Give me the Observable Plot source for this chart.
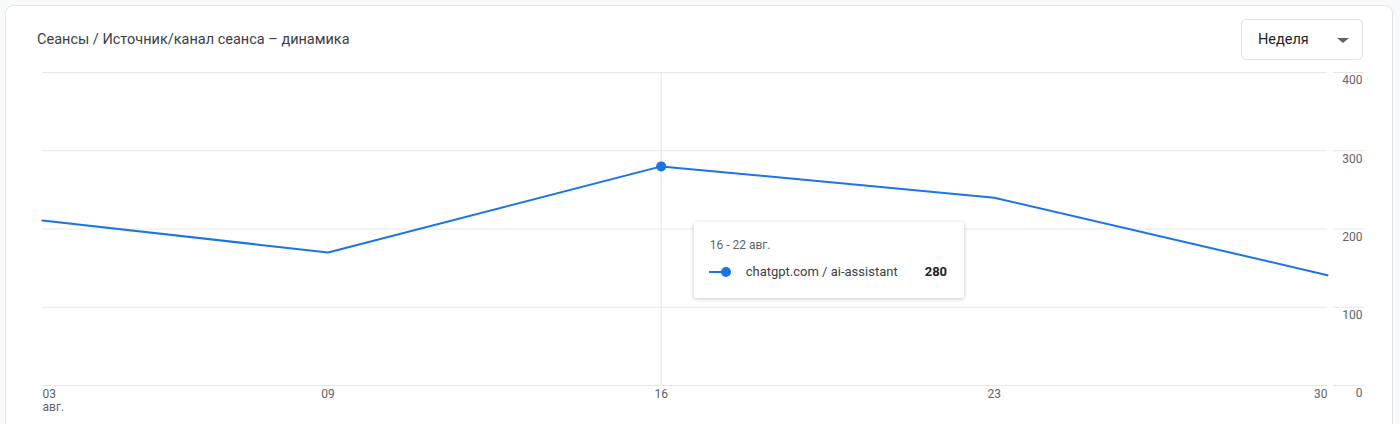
<!DOCTYPE html>
<html><head><meta charset="utf-8">
<script src="https://cdn.jsdelivr.net/npm/d3@7"></script>
<script src="https://cdn.jsdelivr.net/npm/@observablehq/plot@0.6"></script>
<style>
html,body{margin:0;padding:0;background:#f8f9fa;width:1400px;height:424px;overflow:hidden;font-family:Roboto,"Noto Sans",sans-serif;}
#card{position:absolute;left:5px;top:5px;width:1388px;height:450px;background:#fff;border:1px solid #e3e3e3;border-radius:8px;box-sizing:border-box;}
#title{position:absolute;left:37px;top:31px;font-size:14.5px;color:#3c4043;white-space:nowrap;}
#dd{position:absolute;left:1241px;top:19px;width:122px;height:41px;border:1px solid #e3e3e3;border-radius:5px;box-sizing:border-box;}
#dd span{position:absolute;left:16px;top:11px;font-size:14.5px;color:#202124;}
#dd i{position:absolute;left:95px;top:18px;width:0;height:0;border-left:6px solid transparent;border-right:6px solid transparent;border-top:5px solid #5f6368;}
#chart{position:absolute;left:0;top:0;}
#tip{position:absolute;top:222px;width:270px;height:76px;background:#fff;box-shadow:0 1px 4px rgba(0,0,0,0.22);border-radius:2px;}
#tip .h{position:absolute;left:16px;top:16px;font-size:12px;color:#5f6368;}
#tip .row{position:absolute;left:15px;top:42px;height:16px;width:240px;}
#tip .ln{position:absolute;left:0;top:7px;width:14px;height:2px;background:#1a73e8;}
#tip .dt{position:absolute;left:12px;top:3px;width:10px;height:10px;border-radius:50%;background:#1a73e8;}
#tip .nm{position:absolute;left:37px;top:0;font-size:13px;color:#3c4043;white-space:nowrap;}
#tip .v{position:absolute;left:216px;top:0;font-size:13px;font-weight:bold;color:#202124;}
</style></head>
<body>
<div id="card"></div>
<div id="title">Сеансы / Источник/канал сеанса – динамика</div>
<div id="dd"><span>Неделя</span><i></i></div>
<div id="chart"></div>
<div id="tip"></div>
<script>
const dates = ["2026-08-03","2026-08-09","2026-08-16","2026-08-23","2026-08-30"];
const values = [211, 170, 280, 240, 141];
const seriesName = "chatgpt.com / ai-assistant";
const yTicks = [0, 100, 200, 300, 400];
const monthLabel = "авг.";
const hoverIndex = 2;
const hoverRange = "16 - 22 авг.";
const periodLabel = "Неделя";

const data = dates.map((d, i) => ({date: new Date(d + "T00:00:00Z"), value: values[i]}));
const tickDates = data.map(d => d.date);
const fmt = d3.utcFormat("%d");
const hover = data[hoverIndex];
const textStyle = {fill: "#5f6368", fontSize: 12};

const chart = Plot.plot({
  width: 1400,
  height: 424,
  marginTop: 72,
  marginBottom: 39,
  marginLeft: 42,
  marginRight: 73,
  style: {fontFamily: "Roboto, 'Noto Sans', sans-serif", background: "transparent", overflow: "visible"},
  x: {type: "utc", domain: [tickDates[0], tickDates[tickDates.length - 1]], axis: null},
  y: {domain: [0, 400], axis: null},
  marks: [
    Plot.gridY(yTicks, {stroke: "#e6e6e6", strokeOpacity: 1}),
    Plot.axisY(yTicks, {anchor: "right", tickSize: 31, dx: 5, tickFormat: () => "", stroke: "#e6e6e6", strokeOpacity: 1, label: null}),
    Plot.axisY(yTicks, {anchor: "right", tickSize: 0, tickPadding: 0, textAnchor: "end", dx: 35, dy: 8, ...textStyle, label: null}),
    Plot.ruleX([hover.date], {stroke: "#e3e3e3"}),
    Plot.line(data, {x: "date", y: "value", stroke: "#1a73e8", strokeWidth: 2}),
    Plot.dot([hover], {x: "date", y: "value", r: 5, fill: "#1a73e8"}),
    Plot.text(tickDates.slice(0, 1), {x: d => d, text: d => fmt(d) + "\n" + monthLabel, frameAnchor: "bottom", lineAnchor: "top", textAnchor: "start", dy: 4, lineHeight: 1.05, ...textStyle}),
    Plot.text(tickDates.slice(1, -1), {x: d => d, text: d => fmt(d), frameAnchor: "bottom", lineAnchor: "top", textAnchor: "middle", dy: 4, ...textStyle}),
    Plot.text(tickDates.slice(-1), {x: d => d, text: d => fmt(d), frameAnchor: "bottom", lineAnchor: "top", textAnchor: "end", dy: 4, ...textStyle})
  ]
});
document.getElementById("chart").appendChild(chart);

const tip = document.getElementById("tip");
tip.style.left = (chart.scale("x").apply(hover.date) + 33) + "px";
tip.innerHTML = `<div class="h">${hoverRange}</div><div class="row"><div class="ln"></div><div class="dt"></div><div class="nm">${seriesName}</div><div class="v">${hover.value}</div></div>`;
document.querySelector("#dd span").textContent = periodLabel;
</script>
</body></html>
